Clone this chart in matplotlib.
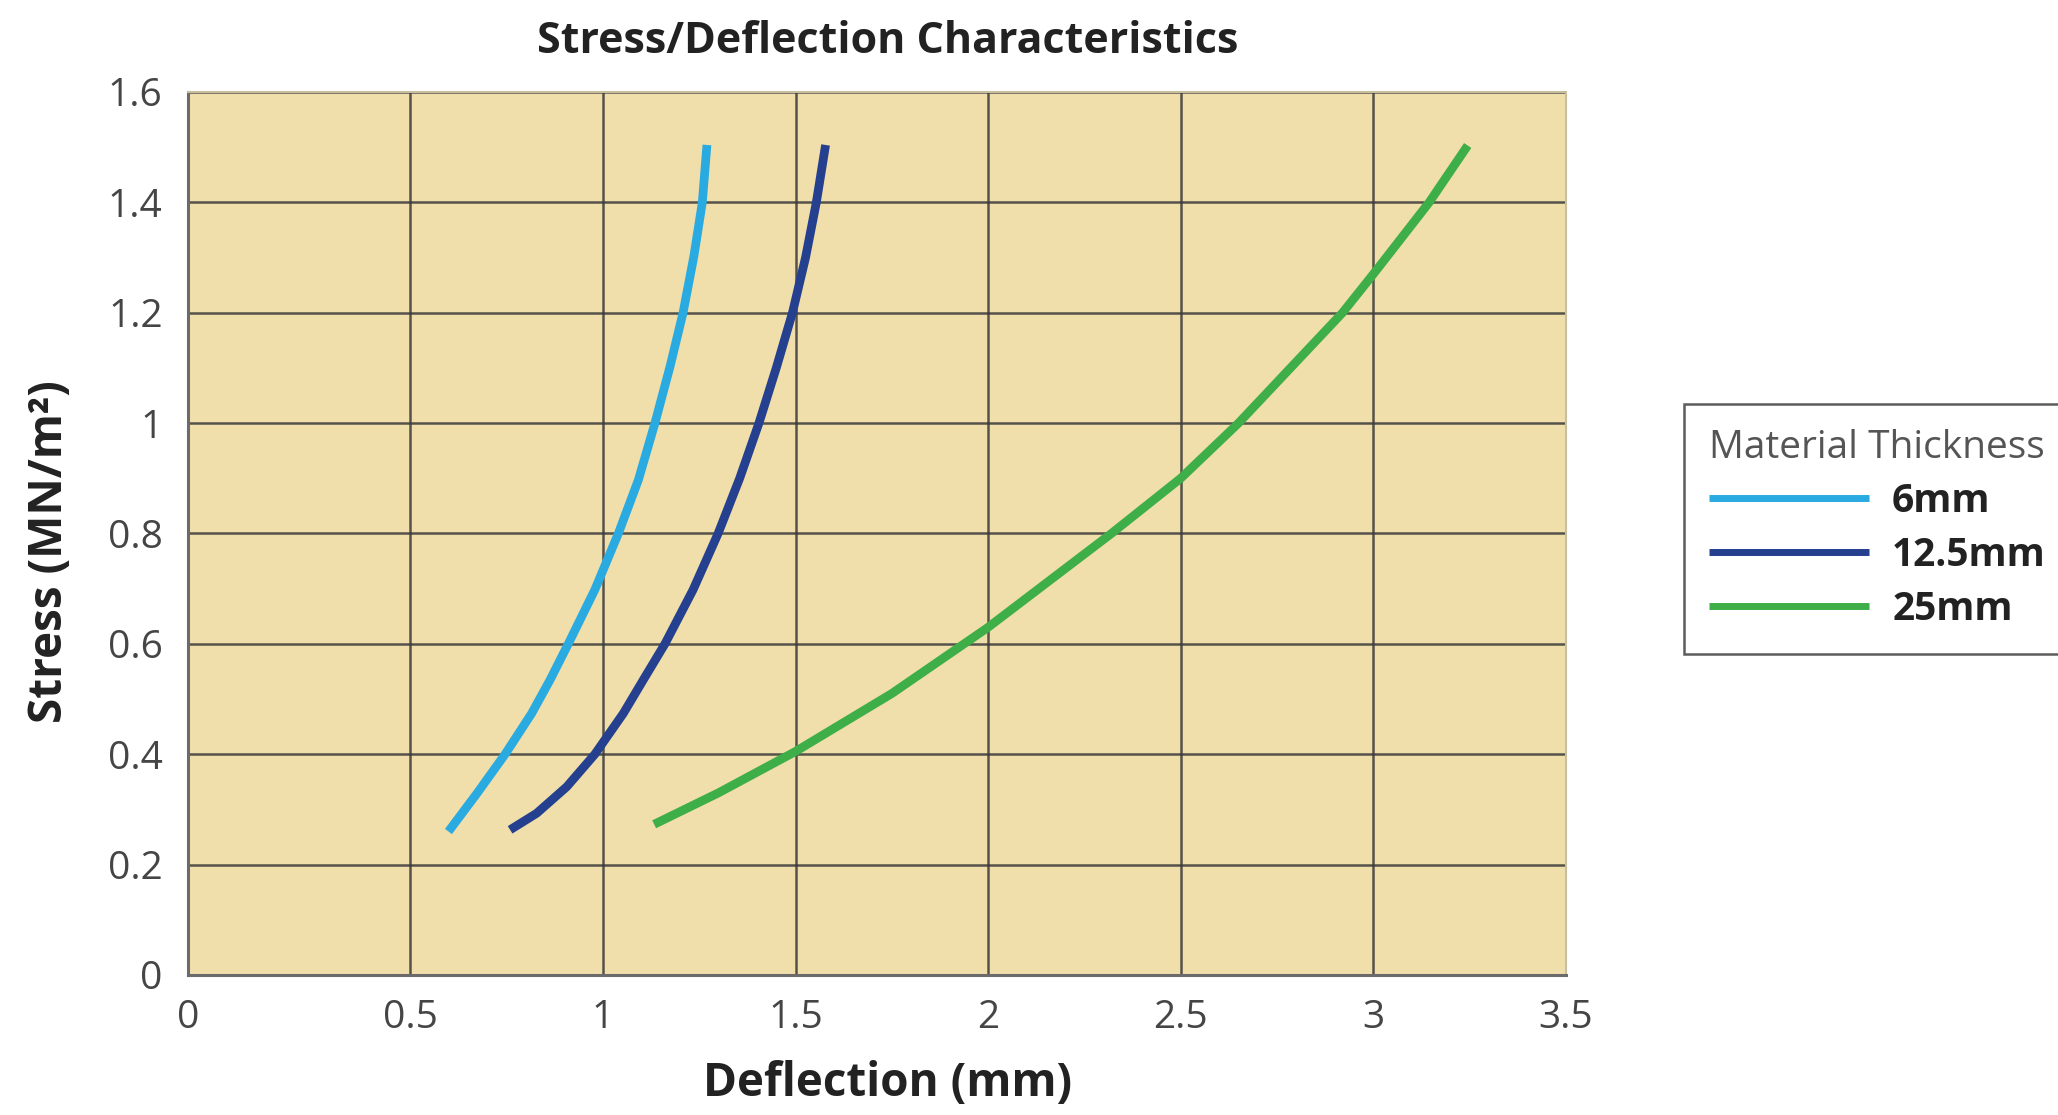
import matplotlib
matplotlib.use('Agg')
import matplotlib.pyplot as plt

plt.rcParams['font.family'] = ['Open Sans', 'DejaVu Sans']

# 曲线数据
x_6mm = [0.599, 0.673, 0.746, 0.815, 0.863, 0.910, 0.979, 1.040, 1.092, 1.135, 1.174, 1.208, 1.236, 1.258, 1.270]
y_6mm = [0.260, 0.329, 0.400, 0.474, 0.535, 0.600, 0.698, 0.800, 0.897, 1.000, 1.102, 1.200, 1.302, 1.400, 1.504]

x_12mm = [0.759, 0.828, 0.906, 0.979, 1.053, 1.105, 1.161, 1.234, 1.299, 1.355, 1.405, 1.450, 1.492, 1.526, 1.554, 1.578]
y_12mm = [0.263, 0.293, 0.341, 0.400, 0.474, 0.535, 0.600, 0.698, 0.800, 0.900, 1.000, 1.100, 1.200, 1.300, 1.400, 1.504]

x_25mm = [1.133, 1.30, 1.50, 1.75, 2.00, 2.32, 2.50, 2.65, 2.92, 3.00, 3.145, 3.245]
y_25mm = [0.273, 0.33, 0.405, 0.51, 0.63, 0.80, 0.90, 1.00, 1.20, 1.27, 1.40, 1.503]

series_names = ['6mm', '12.5mm', '25mm']
series_colors = ['#29ABE2', '#24408F', '#3DAE48']

x_ticks = [0.5, 1, 1.5, 2, 2.5, 3, 3.5]
x_tick_labels = ['0.5', '1', '1.5', '2', '2.5', '3', '3.5']
y_ticks = [0, 0.2, 0.4, 0.6, 0.8, 1.0, 1.2, 1.4, 1.6]
y_tick_labels = ['0', '0.2', '0.4', '0.6', '0.8', '1', '1.2', '1.4', '1.6']

x_min = -0.078

fig = plt.figure(figsize=(20.58, 11.15), dpi=100)
ax = fig.add_axes([0.0912, 0.1256, 0.6697, 0.7919])
ax.set_facecolor('#F0DEAB')

for xs, ys, name, c in zip([x_6mm, x_12mm, x_25mm], [y_6mm, y_12mm, y_25mm],
                           series_names, series_colors):
    ax.plot(xs, ys, color=c, lw=6.3, label=name, solid_joinstyle='round',
            solid_capstyle='butt', zorder=3)

ax.set_xlim(x_min, 3.5)
ax.set_ylim(0, 1.6)
ax.set_xticks([x_min] + x_ticks)
ax.set_xticklabels(['0'] + x_tick_labels)
ax.set_yticks(y_ticks)
ax.set_yticklabels(y_tick_labels)
ax.tick_params(length=0, labelsize=28, colors='#454545')
ax.tick_params(axis='x', pad=17)
ax.tick_params(axis='y', pad=18)

ax.grid(True, color='#3a3a3a', lw=1.8, alpha=0.85)
ax.set_axisbelow(True)
for s in ['left', 'bottom']:
    ax.spines[s].set_color('#6b6b6b')
    ax.spines[s].set_linewidth(2.2)
for s in ['top', 'right']:
    ax.spines[s].set_color('#c8bfa0')
    ax.spines[s].set_linewidth(1.5)

ax.set_xlabel('Deflection (mm)', fontsize=33, fontweight='bold', color='#222222', va='center')
ax.xaxis.set_label_coords(0.508, -0.1234)
ax.set_ylabel('Stress (MN/m²)', fontsize=33, fontweight='bold', color='#222222', va='center')
ax.yaxis.set_label_coords(-0.1, 0.48)

fig.text(0.4315, 0.963, 'Stress/Deflection Characteristics', fontsize=31,
         fontweight='bold', color='#222222', ha='center', va='center')

leg = ax.legend(title='Material Thickness', loc='upper left',
                bbox_to_anchor=(0.8183, 0.6377), bbox_transform=fig.transFigure,
                borderaxespad=0, fontsize=28, title_fontsize=28, frameon=True,
                fancybox=False, handlelength=4.1, handletextpad=0.6,
                borderpad=0.65, labelspacing=0.38, alignment='left')
leg.get_frame().set_edgecolor('#333333')
leg.get_frame().set_linewidth(1.8)
leg.get_title().set_color('#555555')
for t in leg.get_texts():
    t.set_fontweight('bold')
    t.set_color('#222222')
for h in leg.legend_handles:
    h.set_linewidth(5)

fig.savefig('out.png', dpi=100)
